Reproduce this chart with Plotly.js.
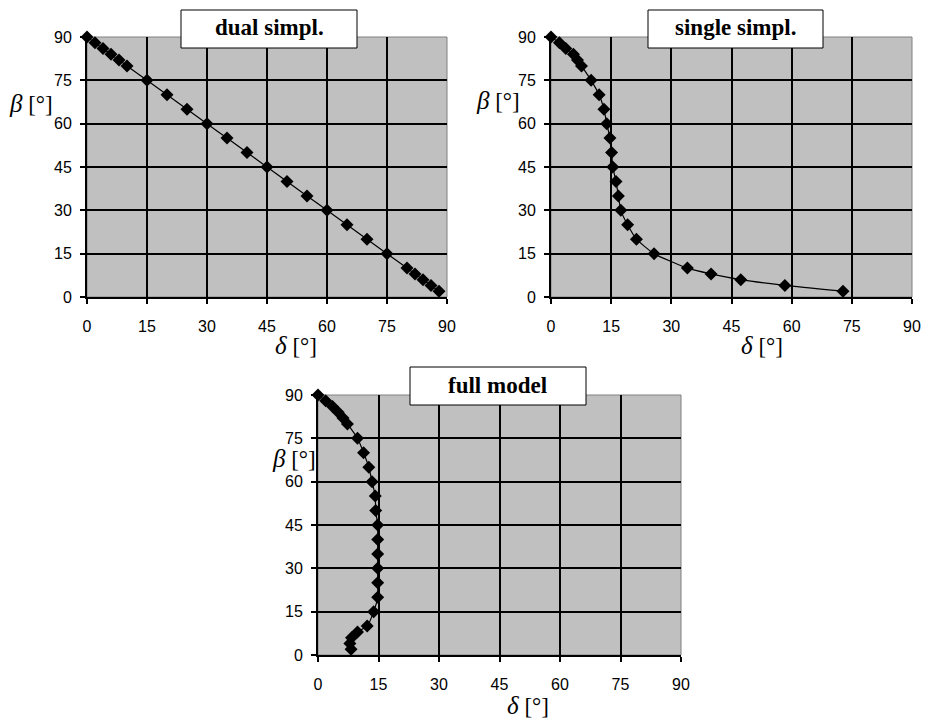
<!DOCTYPE html>
<html><head><meta charset="utf-8">
<script src="https://cdn.plot.ly/plotly-3.0.1.min.js"></script>
<style>html,body{margin:0;padding:0;background:#fff}#chart{width:926px;height:718px}</style>
</head><body><div id="chart"></div>
<script>
// ---- data ----
const beta = [90,88,86,84,82,80,75,70,65,60,55,50,45,40,35,30,25,20,15,10,8,6,4,2];
const deltaDual = [0,2,4,6,8,10,15,20,25,30,35,40,45,50,55,60,65,70,75,80,82,84,86,88];
const deltaSingle = [0,2.1,3.7,5.6,6.6,7.6,10.0,12.0,13.2,13.9,14.7,15.1,15.4,16.2,16.8,17.4,19.1,21.3,25.7,34.0,39.9,47.3,58.3,72.8];
const deltaFull = [0,1.9,3.6,5.0,6.2,7.3,9.8,11.3,12.6,13.4,14.2,14.3,14.8,14.8,14.8,14.8,14.8,14.8,13.8,12.2,9.8,8.3,7.9,8.2];
const tickVals = [0,15,30,45,60,75,90];
const tickText = ['0','15','30','45','60','75','90'];
const panelTitles = ['dual simpl.','single simpl.','full model'];
const seriesX = [deltaDual, deltaSingle, deltaFull];

// ---- layout geometry (pixels) ----
const W = 926, H = 718;
const panels = [
  {l:87, r:447, t:37, b:297, box:[181,357,10,48], ytl:[31,103], xtl:[296,345]},
  {l:551, r:912, t:37, b:297, box:[648,823,10,48], ytl:[498,100], xtl:[762,345]},
  {l:318, r:681, t:395, b:655, box:[410,586,367,405], ytl:[294,458], xtl:[528,705]}
];
const px = x => x / W, py = y => 1 - y / H;

const traces = [];
const layout = {
  width: W, height: H, margin: {l:0, r:0, t:0, b:0},
  paper_bgcolor: '#ffffff', plot_bgcolor: '#c0c0c0',
  showlegend: false, shapes: [], annotations: []
};
const serif = 'Times New Roman, Liberation Serif, serif';

panels.forEach((p, i) => {
  const n = i === 0 ? '' : String(i + 1);
  traces.push({
    x: seriesX[i], y: beta, type: 'scatter', mode: 'lines+markers',
    xaxis: 'x' + n, yaxis: 'y' + n, cliponaxis: false,
    line: {color: '#000', width: 1.2, shape: 'spline', smoothing: 0.5},
    marker: {symbol: 'diamond', size: 10, color: '#000'},
    hoverinfo: 'skip'
  });
  const common = {
    range: [0, 90], tickmode: 'array', tickvals: tickVals, ticktext: tickText,
    showgrid: true, gridcolor: '#000', gridwidth: 2,
    showline: true, linecolor: '#000', linewidth: 2, zeroline: false,
    ticks: 'outside', ticklen: 5, tickwidth: 2, tickcolor: '#000',
    tickfont: {family: 'Arial, Liberation Sans, sans-serif', size: 16, color: '#000'},
    fixedrange: true
  };
  layout['xaxis' + n] = Object.assign({}, common, {
    domain: [px(p.l), px(p.r)], anchor: 'y' + n, ticklabelstandoff: 9
  });
  layout['yaxis' + n] = Object.assign({}, common, {
    domain: [py(p.b), py(p.t)], anchor: 'x' + n, ticklabelstandoff: 5
  });
  // plot area border
  layout.shapes.push({type:'rect', xref:'paper', yref:'paper',
    x0: px(p.l), x1: px(p.r), y0: py(p.b), y1: py(p.t),
    line: {color: '#808080', width: 1}, layer: 'below'});
  // title box
  layout.shapes.push({type:'rect', xref:'paper', yref:'paper',
    x0: px(p.box[0]), x1: px(p.box[1]), y0: py(p.box[3]), y1: py(p.box[2]),
    fillcolor: '#ffffff', line: {color: '#000', width: 1}, layer: 'above'});
  layout.annotations.push({xref:'paper', yref:'paper',
    x: px((p.box[0] + p.box[1]) / 2), y: py((p.box[2] + p.box[3]) / 2 - 1),
    xanchor: 'center', yanchor: 'middle', showarrow: false,
    text: '<b>' + panelTitles[i] + '</b>',
    font: {family: serif, size: 23, color: '#000'}});
  // axis titles
  layout.annotations.push({xref:'paper', yref:'paper',
    x: px(p.ytl[0]), y: py(p.ytl[1]), xanchor: 'center', yanchor: 'middle', showarrow: false,
    text: '<i><span style="font-size:25px">β</span></i> [°]',
    font: {family: serif, size: 23, color: '#000'}});
  layout.annotations.push({xref:'paper', yref:'paper',
    x: px(p.xtl[0]), y: py(p.xtl[1]), xanchor: 'center', yanchor: 'middle', showarrow: false,
    text: '<i><span style="font-size:25px">δ</span></i> [°]',
    font: {family: serif, size: 23, color: '#000'}});
});

Plotly.newPlot('chart', traces, layout, {displayModeBar: false, staticPlot: true});
</script>
</body></html>
